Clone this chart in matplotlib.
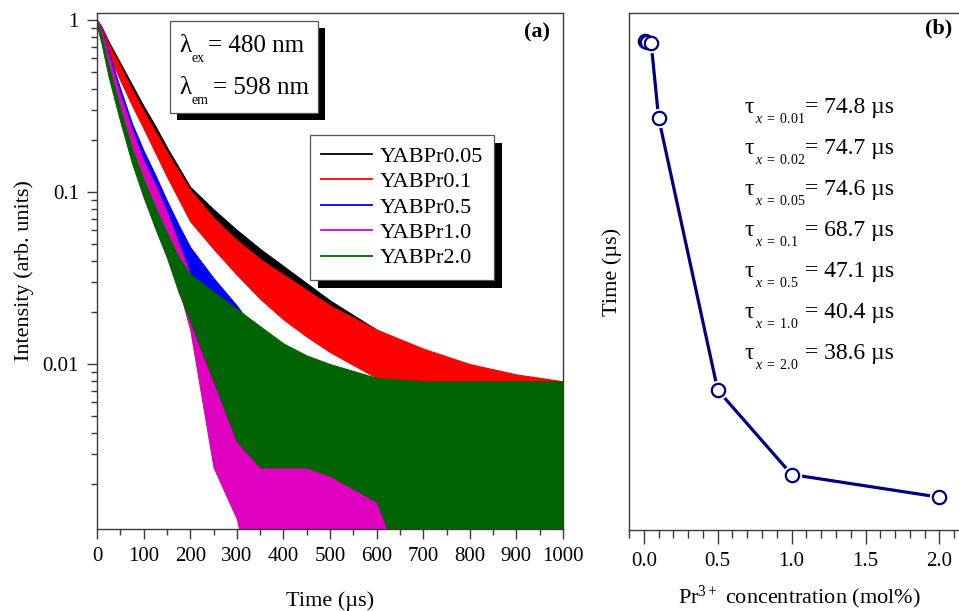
import numpy as np
import matplotlib
matplotlib.use('Agg')
import matplotlib.pyplot as plt
from matplotlib.patches import Rectangle
from matplotlib.lines import Line2D
from matplotlib.ticker import MultipleLocator, LogLocator, FixedLocator, FixedFormatter, NullFormatter

plt.rcParams['font.family'] = ['Liberation Serif', 'DejaVu Serif']
plt.rcParams['mathtext.fontset'] = 'custom'
plt.rcParams['mathtext.rm'] = 'Liberation Serif'
plt.rcParams['mathtext.it'] = 'Liberation Serif:italic'
plt.rcParams['mathtext.bf'] = 'Liberation Serif:bold'

t_us = [0, 10, 25, 50, 75, 100, 125, 150, 175, 200, 250, 300, 350, 400, 450, 500, 600, 700, 800, 900, 1000]

pr005_hi = [0.00, -0.04, -0.125, -0.25, -0.375, -0.50, -0.615, -0.74, -0.855, -0.97, -1.10, -1.22, -1.33, -1.43, -1.53, -1.63, -1.80, -1.92, -2.02, -2.08, -2.12]
pr005_lo = [-0.01, -0.08, -0.175, -0.31, -0.445, -0.58, -0.705, -0.84, -0.965, -1.09, -1.26, -1.39, -1.52, -1.63, -1.73, -1.82, -1.98, -2.12, -2.24, -2.32, -2.40]

pr01_hi = [0.00, -0.045, -0.14, -0.27, -0.405, -0.53, -0.65, -0.77, -0.88, -0.99, -1.15, -1.28, -1.39, -1.48, -1.57, -1.66, -1.80, -1.91, -2.00, -2.06, -2.10]
pr01_lo = [-0.01, -0.095, -0.20, -0.35, -0.495, -0.63, -0.77, -0.91, -1.04, -1.17, -1.33, -1.48, -1.62, -1.74, -1.84, -1.93, -2.08, -2.20, -2.31, -2.40, -2.47]

pr05_hi = [0.00, -0.06, -0.19, -0.40, -0.60, -0.76, -0.90, -1.05, -1.19, -1.32, -1.50, -1.66, -1.85, -2.00, -2.05, -2.10, -2.15, -2.15, -2.15, -2.15, -2.15]
pr05_lo = [-0.01, -0.10, -0.25, -0.47, -0.67, -0.85, -1.01, -1.18, -1.35, -1.50, -1.75, -2.00, -2.50, -3.5, -3.5, -3.5, -3.5, -3.5, -3.5, -3.5, -3.5]

pr10_hi = [0.00, -0.07, -0.21, -0.44, -0.64, -0.82, -0.96, -1.12, -1.30, -1.48, -1.75, -1.95, -2.10, -2.20, -2.25, -2.25, -2.30, -2.30, -2.30, -2.30, -2.30]
pr10_lo = [-0.01, -0.11, -0.28, -0.53, -0.76, -0.94, -1.10, -1.30, -1.55, -1.80, -2.60, -2.90, -3.5, -3.5, -3.5, -3.5, -3.5, -3.5, -3.5, -3.5, -3.5]

pr20_hi = [-0.01, -0.10, -0.27, -0.52, -0.75, -0.93, -1.09, -1.24, -1.38, -1.48, -1.58, -1.68, -1.78, -1.88, -1.95, -2.00, -2.08, -2.10, -2.10, -2.10, -2.10]
pr20_lo = [-0.03, -0.14, -0.33, -0.59, -0.83, -1.03, -1.21, -1.38, -1.58, -1.75, -2.10, -2.45, -2.60, -2.60, -2.60, -2.65, -2.80, -3.5, -3.5, -3.5, -3.5]

labels = ['YABPr0.05', 'YABPr0.1', 'YABPr0.5', 'YABPr1.0', 'YABPr2.0']
colors = ['#000000', '#ff0000', '#0000ff', '#e000c0', '#006400']
lows = [pr005_lo, pr01_lo, pr05_lo, pr10_lo, pr20_lo]
highs = [pr005_hi, pr01_hi, pr05_hi, pr10_hi, pr20_hi]

# ---- (b) lifetimes ----
conc = [0.01, 0.02, 0.05, 0.1, 0.5, 1.0, 2.0]
tau = [74.8, 74.7, 74.6, 68.7, 47.1, 40.4, 38.6]
tau_sub = ['0.01', '0.02', '0.05', '0.1', '0.5', '1.0', '2.0']

fig = plt.figure(figsize=(9.59, 6.11), dpi=100)
W, H = 959.0, 611.0
spine_col = '#3a3a3a'

# ================= panel (a) =================
ax1 = fig.add_axes([97 / W, 82 / H, 466 / W, 516 / H])
for lo, hi, c in zip(lows, highs, colors):
    ax1.fill_between(t_us, 10 ** np.array(lo), 10 ** np.array(hi), color=c, lw=0.8)

ax1.set_yscale('log')
ax1.set_xlim(0, 1000)
ax1.set_ylim(0.0011, 1.1)
ax1.xaxis.set_major_locator(MultipleLocator(100))
ax1.xaxis.set_minor_locator(MultipleLocator(50))
ax1.yaxis.set_major_locator(FixedLocator([0.01, 0.1, 1]))
ax1.yaxis.set_major_formatter(FixedFormatter(['0.01', '0.1', '1']))
ax1.yaxis.set_minor_locator(LogLocator(base=10, subs=np.arange(2, 10)))
ax1.yaxis.set_minor_formatter(NullFormatter())
ax1.tick_params(which='major', length=7, width=1, labelsize=15, color=spine_col, pad=6)
ax1.tick_params(which='minor', length=4, width=1, color=spine_col)
ax1.set_xlabel('Time (µs)', fontsize=16, labelpad=18)
ax1.set_ylabel('Intensity (arb. units)', fontsize=16, labelpad=6)
for s in ax1.spines.values():
    s.set_color(spine_col)
    s.set_linewidth(1.0)

ax1.text(0.972, 0.963, '(a)', transform=ax1.transAxes, ha='right', va='center',
         fontsize=16, fontweight='bold')

# excitation / emission box with black drop shadow
bx0, bx1 = (170 - 97) / 466, (318 - 97) / 466
by0, by1 = (529 - 113) / 516, (529 - 21) / 516
ax1.add_patch(Rectangle((bx0 + 7 / 466, by0 - 7 / 516), bx1 - bx0, by1 - by0,
                        transform=ax1.transAxes, facecolor='black', edgecolor='none',
                        zorder=6, clip_on=False))
ax1.add_patch(Rectangle((bx0, by0), bx1 - bx0, by1 - by0, transform=ax1.transAxes,
                        facecolor='white', edgecolor='#555555', lw=0.9, zorder=6.1,
                        clip_on=False))
for base_y, sub, eq_x, txt in [(52.3, 'ex', 208, '= 480 nm'), (94, 'em', 213, '= 598 nm')]:
    yb = (529 - base_y) / 516
    ax1.text((179 - 97) / 466, yb, 'λ', transform=ax1.transAxes, fontsize=18,
             va='baseline', ha='left', zorder=7)
    ax1.text((191 - 97) / 466, yb - 10 / 516, sub, transform=ax1.transAxes, fontsize=10,
             va='baseline', ha='left', zorder=7)
    ax1.text((eq_x - 97) / 466, yb, txt, transform=ax1.transAxes, fontsize=18,
             va='baseline', ha='left', zorder=7)

handles = [Line2D([], [], color=c, lw=1.3) for c in colors]
leg = ax1.legend(handles, labels, loc='upper left',
                 bbox_to_anchor=((310 - 97) / 466, (529 - 135) / 516),
                 borderaxespad=0, fontsize=16, frameon=True, fancybox=False,
                 framealpha=1, facecolor='white',
                 handlelength=2.3, handletextpad=0.35, labelspacing=0.22,
                 borderpad=0.5)
leg.get_frame().set_edgecolor('#555555')
leg.get_frame().set_linewidth(0.9)
leg.set_zorder(5)

# ================= panel (b) =================
ax2 = fig.add_axes([629 / W, 81 / H, 340 / W, 517 / H])
ax2.plot(conc, tau, color='#000080', lw=2.3, zorder=2)
ax2.plot(conc, tau, ls='none', marker='o', ms=13, mfc='white', mec='white', zorder=3)
ax2.plot(conc, tau, ls='none', marker='o', ms=9.6, mfc='white', mec='#000080',
         mew=1.6, zorder=4)
ax2.set_xlim(-0.1, 2.2)
ax2.set_ylim(36, 77)
ax2.xaxis.set_major_locator(MultipleLocator(0.5))
ax2.xaxis.set_minor_locator(MultipleLocator(0.1))
ax2.xaxis.set_major_formatter(matplotlib.ticker.FormatStrFormatter('%.1f'))
ax2.set_yticks([])
ax2.tick_params(which='major', length=10, width=1, labelsize=15, color=spine_col, pad=6)
ax2.tick_params(which='minor', length=6, width=1, color=spine_col)
ax2.set_xlabel('Pr${}^{3+}$ concentration (mol%)', fontsize=16, labelpad=9)
ax2.set_ylabel('Time (µs)', fontsize=16, labelpad=5)
for s in ax2.spines.values():
    s.set_color(spine_col)
    s.set_linewidth(1.0)

ax2.text((925 - 629) / 340, (530 - 28) / 517, '(b)', transform=ax2.transAxes,
         ha='left', va='center', fontsize=16, fontweight='bold')

baselines = [112.7, 154, 195, 236, 277, 318, 359]
for b, sub, val in zip(baselines, tau_sub, tau):
    yb = (530 - b) / 517
    ax2.text((745 - 629) / 340, yb, 'τ', transform=ax2.transAxes, fontsize=17,
             va='baseline', ha='left')
    ax2.text((755 - 629) / 340, yb - 10 / 517, r'$x\ =\ $' + sub, transform=ax2.transAxes,
             fontsize=10, va='baseline', ha='left')
    ax2.text((805 - 629) / 340, yb, '= %.1f µs' % val, transform=ax2.transAxes,
             fontsize=17, va='baseline', ha='left')

# black drop shadow behind the legend
fig.canvas.draw()
bb = leg.get_window_extent().transformed(ax1.transAxes.inverted())
ax1.add_patch(Rectangle((bb.x0 + 8 / 466, bb.y0 - 8 / 516), bb.width, bb.height,
                        transform=ax1.transAxes, facecolor='black', edgecolor='none',
                        zorder=4.9, clip_on=False))

fig.savefig('out.png', dpi=100)
